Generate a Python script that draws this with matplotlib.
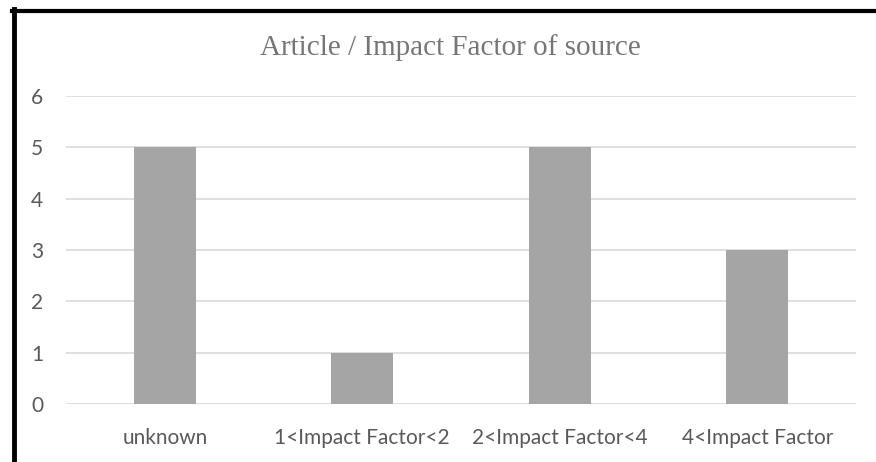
import matplotlib.pyplot as plt
from matplotlib.lines import Line2D

categories = ['unknown', '1<Impact Factor<2', '2<Impact Factor<4', '4<Impact Factor']
counts = [5, 1, 5, 3]
yticks = [0, 1, 2, 3, 4, 5, 6]

fig = plt.figure(figsize=(8.76, 4.62), dpi=100)
ax = fig.add_axes([66 / 876, 58 / 462, 790 / 876, 308 / 462])

ax.bar(range(len(categories)), counts, width=0.314, color='#a5a5a5', zorder=3)
ax.set_xlim(-0.5, len(categories) - 0.5)
ax.set_ylim(0, 6)
ax.set_yticks(yticks)
ax.set_xticks(range(len(categories)))
ax.set_xticklabels(categories, fontfamily='Lato', fontsize=15, color='#595959')
for lbl in ax.get_yticklabels():
    lbl.set_fontfamily('Lato')
    lbl.set_fontsize(15)
    lbl.set_color('#595959')
ax.tick_params(axis='both', length=0)
ax.tick_params(axis='y', pad=16.5)
ax.tick_params(axis='x', pad=17.5)
ax.grid(axis='y', color='#d9d9d9', linewidth=1.2, zorder=0)
for s in ax.spines.values():
    s.set_visible(False)

fig.text(450 / 876, 1 - 48 / 462, 'Article / Impact Factor of source', ha='center', va='center',
         fontfamily='Liberation Serif', fontsize=21, color='#767676')

# black frame edges on left and top
fig.add_artist(Line2D([13.5 / 876, 13.5 / 876], [0, 1 - 9 / 462], color='black', lw=3.5, transform=fig.transFigure))
fig.add_artist(Line2D([11.5 / 876, 1], [1 - 10.5 / 462, 1 - 10.5 / 462], color='black', lw=3, transform=fig.transFigure))

fig.savefig('out.png', dpi=100)
